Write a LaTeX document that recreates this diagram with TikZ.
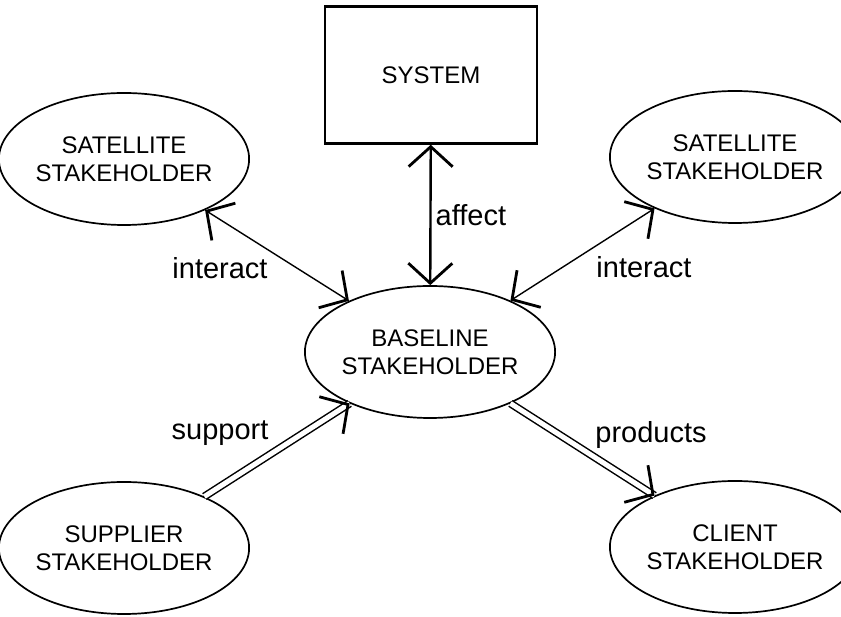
\documentclass[tikz,border=0pt]{standalone}
\usepackage{fontspec}
\setmainfont{Liberation Sans}
\usetikzlibrary{shapes.geometric,arrows.meta,decorations.markings}
\tikzset{
barb/.tip={Straight Barb[length=20pt,width=44pt,line width=2.8pt]},
stake/.style={
  ellipse,
  draw,
  line width=1.7pt,
  inner sep=0pt,
  minimum width=218pt,
  minimum height=132pt,
  align=center,
  font=\fontsize{24}{28}\selectfont
  },
lbl/.style={
  inner sep=0pt,
  font=\fontsize{29}{30}\selectfont
  },
dline/.style={
  double,
  double distance=5pt,
  line width=1.5pt,
  postaction={decorate,decoration={markings,
    mark=at position 1 with {\pgfsetinnerlinewidth{0pt}\arrow{barb}}}}
  }
}
\begin{document}
\begin{tikzpicture}[x=1pt,y=1pt,>=barb]
            \useasboundingbox (0,0) rectangle (841,617);
            % the system and the stakeholders
            \node[draw,line width=2.6pt,minimum width=212pt,minimum height=137pt,
                font=\fontsize{24}{28}\selectfont] (sys) at (431,542) {SYSTEM};
            \node[stake] (base) at (430,265) {BASELINE\\STAKEHOLDER};
            \node[stake] (satl) at (124,458) {SATELLITE\\STAKEHOLDER};
            \node[stake,minimum width=210pt] (satr) at (735,460) {SATELLITE\\STAKEHOLDER};
            \node[stake] (sup) at (124,69) {SUPPLIER\\STAKEHOLDER};
            \node[stake,minimum width=210pt] (cli) at (735,70) {CLIENT\\STAKEHOLDER};
            % relations
            \draw[<->,line width=2.4pt] (sys) -- node[lbl,anchor=west,xshift=4pt] (laff) {affect} (base);
            \draw[<->,line width=1.4pt] (satl) -- (base);
            \draw[<->,line width=1.4pt] (satr) -- (base);
            \draw[dline] (sup) -- (base);
            \draw[dline] (base) -- (cli);
            \node[lbl] (lintl) at (220,349) {interact};
            \node[lbl] (lintr) at (644,350) {interact};
            \node[lbl] (lsup) at (220,184) {support};
            \node[lbl] (lprod) at (651,182) {products};
        \end{tikzpicture}
\end{document}
